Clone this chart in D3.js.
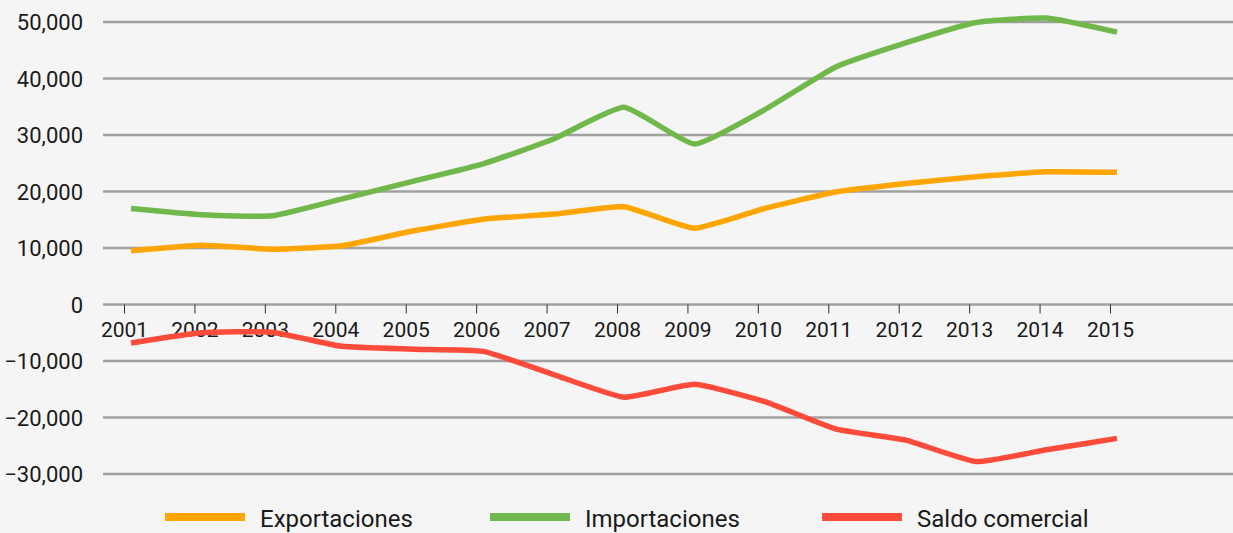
<!DOCTYPE html>
<html><head><meta charset="utf-8">
<script src="https://cdn.jsdelivr.net/npm/d3@7"></script>
<style>
html,body{margin:0;padding:0;background:#f5f5f5;}
svg{display:block;font-family:Roboto, "Noto Sans", sans-serif;}
</style></head>
<body><svg id="c" width="1233" height="533"></svg>
<script>
const years = [2001,2002,2003,2004,2005,2006,2007,2008,2009,2010,2011,2012,2013,2014,2015];
const exportaciones = [9500,10500,9800,10400,13000,15100,16000,17300,13500,17000,19900,21400,22600,23500,23400];
const importaciones = [17000,15900,15700,18700,21800,24900,29300,34900,28400,34500,42000,46300,49900,50700,48200];
const saldo = [-6800,-5000,-4900,-7400,-7900,-8300,-12400,-16400,-14100,-17200,-22000,-24000,-27800,-25700,-23700];
const yTicks = [-30000,-20000,-10000,0,10000,20000,30000,40000,50000];
const seriesNames = ["Exportaciones","Importaciones","Saldo comercial"];
const seriesColors = ["#FFA500","#70B84B","#FF4B3A"];

const svg = d3.select("#c");
svg.append("rect").attr("width",1233).attr("height",533).attr("fill","#f5f5f5");

const y = d3.scaleLinear().domain([-30000,50000]).range([474,22]);
const x = d3.scaleLinear().domain([2001,2015]).range([124,1110]);
const xd = d3.scaleLinear().domain([2001,2015]).range([131,1117]);

const yAxis = d3.axisLeft(y).tickValues(yTicks).tickSize(0).tickFormat(d3.format(","));
const ga = svg.append("g").attr("transform","translate(83,0)").call(yAxis);
ga.select(".domain").remove();
ga.selectAll("text").attr("font-size",22).attr("fill","#1a1a1a").attr("font-family","Roboto").attr("dy","0.36em").attr("x",0);

svg.append("g").selectAll("line").data(yTicks).join("line")
  .attr("x1",103).attr("x2",1233)
  .attr("y1",d=>y(d)).attr("y2",d=>y(d))
  .attr("stroke","#a0a0a0").attr("stroke-width",2.5);

const xAxis = d3.axisBottom(x).tickValues(years).tickSize(9).tickFormat(d3.format("d"));
const gx = svg.append("g").attr("transform",`translate(0,${y(0)})`).call(xAxis);
gx.select(".domain").remove();
gx.selectAll("line").attr("stroke","#333").attr("stroke-width",1);
gx.selectAll("text").attr("font-size",21).attr("fill","#1a1a1a").attr("font-family","Roboto").attr("y",18);

const line = d3.line().x((d,i)=>xd(years[i])).y(d=>y(d)).curve(d3.curveCardinal.tension(0.55));
const allSeries = [exportaciones, importaciones, saldo];
allSeries.forEach((s,k)=>{
  svg.append("path").attr("d",line(s)).attr("fill","none")
    .attr("stroke",seriesColors[k]).attr("stroke-width",5.5);
});

const legX = [165,490,822];
const lg = svg.append("g");
seriesNames.forEach((n,k)=>{
  lg.append("rect").attr("x",legX[k]).attr("y",513).attr("width",80).attr("height",8).attr("fill",seriesColors[k]);
  lg.append("text").attr("x",legX[k]+95).attr("y",527).attr("font-size",24).attr("fill","#1a1a1a").text(n);
});
</script></body></html>
